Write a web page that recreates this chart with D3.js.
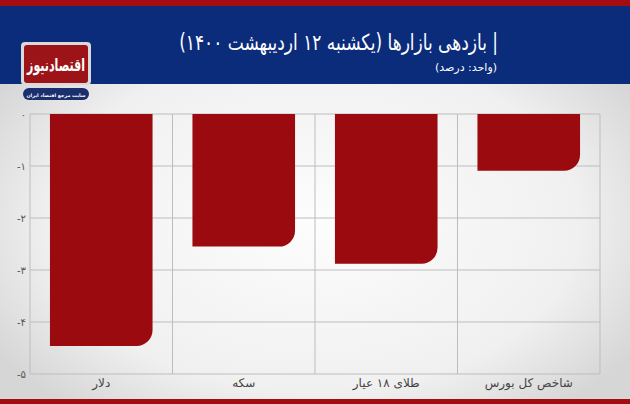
<!DOCTYPE html>
<html>
<head>
<meta charset="utf-8">
<script src="https://cdn.jsdelivr.net/npm/d3@7/dist/d3.min.js"></script>
<style>
  body { margin: 0; padding: 0; overflow: hidden; }
  svg { display: block; font-family: "DejaVu Sans", sans-serif; }
</style>
</head>
<body>
<div id="chart"></div>
<script>
// داده ها
var categories = ["دلار", "سکه", "طلای ۱۸ عیار", "شاخص کل بورس"];
var values = [-4.46, -2.55, -2.88, -1.09];
var yTicks = [0, -1, -2, -3, -4, -5];
var yTickLabels = ["۰", "-۱", "-۲", "-۳", "-۴", "-۵"];
var title = "| بازدهی بازارها (یکشنبه ۱۲ اردیبهشت ۱۴۰۰)";
var subtitle = "(واحد: درصد)";

var width = 630, height = 404;
var margin = {top: 114, right: 30, bottom: 30, left: 30};

var svg = d3.select("#chart").append("svg")
    .attr("width", width)
    .attr("height", height);

var defs = svg.append("defs");
var bg = defs.append("radialGradient").attr("id", "bg")
    .attr("cx", "50%").attr("cy", "55%").attr("r", "60%");
bg.append("stop").attr("offset", "0%").attr("stop-color", "#fdfdfd");
bg.append("stop").attr("offset", "70%").attr("stop-color", "#f0f0f0");
bg.append("stop").attr("offset", "100%").attr("stop-color", "#d6d6d6");

// پس زمینه
svg.append("rect").attr("width", width).attr("height", height).attr("fill", "url(#bg)");
svg.append("rect").attr("width", width).attr("height", 84).attr("fill", "#0b2c7a");
svg.append("rect").attr("width", width).attr("height", 6).attr("fill", "#a30d12");
svg.append("rect").attr("y", 399).attr("width", width).attr("height", 5).attr("fill", "#a30d12");

// عنوان
svg.append("text")
    .attr("transform", "translate(498,50) scale(1,1.3)")
    .attr("text-anchor", "start")
    .attr("direction", "rtl")
    .attr("fill", "#ffffff")
    .style("font-size", "17px")
    .text(title);
svg.append("text")
    .attr("x", 497).attr("y", 71)
    .attr("text-anchor", "start")
    .attr("direction", "rtl")
    .attr("fill", "#ffffff")
    .style("font-size", "11px")
    .text(subtitle);

// لوگو
var logo = svg.append("g");
logo.append("rect").attr("x", 21).attr("y", 42).attr("width", 70).attr("height", 43)
    .attr("rx", 4).attr("fill", "#d9d9d9");
logo.append("rect").attr("x", 24).attr("y", 45).attr("width", 64).attr("height", 38)
    .attr("rx", 3).attr("fill", "#9c1418");
logo.append("text").attr("transform", "translate(56,71) scale(1,1.6)")
    .attr("text-anchor", "middle").attr("fill", "#ffffff")
    .style("font-size", "11px").style("font-weight", "bold")
    .text("اقتصادنیوز");
logo.append("rect").attr("x", 23).attr("y", 88).attr("width", 66).attr("height", 12)
    .attr("rx", 6).attr("fill", "#1b2f6e");
logo.append("text").attr("x", 56).attr("y", 96.5)
    .attr("text-anchor", "middle").attr("fill", "#ffffff")
    .style("font-size", "4.8px").style("font-weight", "bold")
    .text("سایت مرجع اقتصاد ایران");

// مقیاس ها
var x = d3.scaleBand()
    .domain(categories)
    .range([margin.left, width - margin.right])
    .padding(0);

var y = d3.scaleLinear()
    .domain([0, -5])
    .range([margin.top, height - margin.bottom]);

// خطوط شبکه
var grid = svg.append("g");
grid.selectAll("line.h").data(yTicks).enter().append("line")
    .attr("x1", margin.left).attr("x2", width - margin.right)
    .attr("y1", function (d) { return y(d); })
    .attr("y2", function (d) { return y(d); })
    .attr("stroke", "#bdbdbd").attr("stroke-width", 1);
var bounds = categories.map(function (c) { return x(c); }).concat([x.range()[1]]);
grid.selectAll("line.v").data(bounds).enter().append("line")
    .attr("x1", function (d) { return d; }).attr("x2", function (d) { return d; })
    .attr("y1", y(0)).attr("y2", y(-5))
    .attr("stroke", "#bdbdbd").attr("stroke-width", 1);

// محور عمودی
svg.append("g").selectAll("text").data(yTicks).enter().append("text")
    .attr("x", 26)
    .attr("y", function (d) { return y(d) + 4; })
    .attr("text-anchor", "end")
    .attr("fill", "#555")
    .style("font-size", "10px")
    .text(function (d, i) { return yTickLabels[i]; });

// ستون ها با گوشه گرد پایین راست
var r = 16;
function barPath(d, i) {
    var c = categories[i];
    var x0 = x(c) + x.bandwidth() * 0.14;
    var x1 = x(c) + x.bandwidth() * 0.86;
    var y0 = y(0), y1 = y(d);
    var rr = Math.min(r, (y1 - y0) / 2);
    return "M" + x0 + "," + y0 + "H" + x1 + "V" + (y1 - rr) +
        "A" + rr + "," + rr + " 0 0 1 " + (x1 - rr) + "," + y1 +
        "H" + x0 + "Z";
}
svg.append("g").selectAll("path").data(values).enter().append("path")
    .attr("d", barPath)
    .attr("fill", "#9b0a0e");

// برچسب دسته ها
svg.append("g").selectAll("text").data(categories).enter().append("text")
    .attr("x", function (d) { return x(d) + x.bandwidth() / 2; })
    .attr("y", 387)
    .attr("text-anchor", "middle")
    .attr("fill", "#444")
    .style("font-size", "12px")
    .text(function (d) { return d; });
</script>
</body>
</html>
